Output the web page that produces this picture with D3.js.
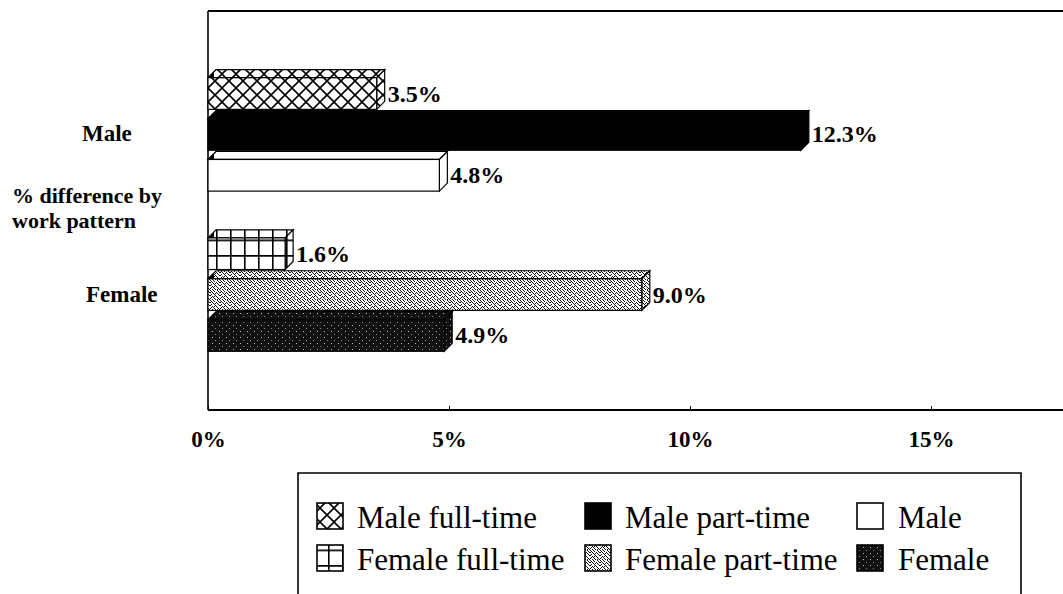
<!DOCTYPE html>
<html>
<head>
<meta charset="utf-8">
<script src="https://cdn.jsdelivr.net/npm/d3@7"></script>
<style>
  html, body { margin: 0; padding: 0; background: #fff; }
  svg { display: block; }
</style>
</head>
<body>
<svg id="chart" width="1063" height="594"></svg>
<script>
// ---------------- data ----------------
const groups = ["Male", "Female"];
const maleSeries = ["Male full-time", "Male part-time", "Male"];
const femaleSeries = ["Female full-time", "Female part-time", "Female"];
const maleValues = [3.5, 12.3, 4.8];
const femaleValues = [1.6, 9.0, 4.9];
const tickValues = [0, 5, 10, 15];
const tickLabels = ["0%", "5%", "10%", "15%"];
const axisTitleLines = ["% difference by", "work pattern"];
const legendOrder = ["Male full-time", "Male part-time", "Male",
                     "Female full-time", "Female part-time", "Female"];

// ---------------- setup ----------------
const svg = d3.select("#chart");
const W = 1063, H = 594;
const plot = { left: 208, top: 11, bottom: 410, right: 1075 };
const depth = 8;
const boldFont = "'Liberation Serif', 'Times New Roman', serif";

const fills = {
  "Male full-time": "url(#pCross)",
  "Male part-time": "#000",
  "Male": "#fff",
  "Female full-time": "url(#pGrid)",
  "Female part-time": "url(#pNoise)",
  "Female": "url(#pDark)"
};

const defs = svg.append("defs");
// crosshatch diamonds
const pc = defs.append("pattern").attr("id", "pCross").attr("patternUnits", "userSpaceOnUse")
  .attr("width", 14).attr("height", 14).attr("patternTransform", "translate(208,4)");
pc.append("rect").attr("width", 14).attr("height", 14).attr("fill", "#fff");
pc.append("path").attr("d", "M0,0L14,14M14,0L0,14M-1,13L1,15M13,-1L15,1").attr("stroke", "#000").attr("stroke-width", 1.6);
// grid
const pg = defs.append("pattern").attr("id", "pGrid").attr("patternUnits", "userSpaceOnUse")
  .attr("width", 14).attr("height", 15.5).attr("patternTransform", "translate(216,255)");
pg.append("rect").attr("width", 14).attr("height", 15.5).attr("fill", "#fff");
pg.append("path").attr("d", "M0.8,0V15.5M0,0.8H14").attr("stroke", "#000").attr("stroke-width", 1.6);
// streaky grey texture (fixed bitmap tile)
const noiseTile = [
  "1001000100",
  "0100100010",
  "1010001001",
  "0001010100",
  "0100100010",
  "1000010001",
  "0010101000",
  "0101000100",
  "1000100010",
  "0010010101"
];
const pn = defs.append("pattern").attr("id", "pNoise").attr("patternUnits", "userSpaceOnUse")
  .attr("width", 10).attr("height", 10);
pn.append("rect").attr("width", 10).attr("height", 10).attr("fill", "#fff");
noiseTile.forEach((row, r) => row.split("").forEach((c, k) => {
  if (c === "1") pn.append("rect").attr("x", k).attr("y", r).attr("width", 1).attr("height", 1).attr("fill", "#111");
}));
// dark with white specks
const pd = defs.append("pattern").attr("id", "pDark").attr("patternUnits", "userSpaceOnUse")
  .attr("width", 7).attr("height", 6);
pd.append("rect").attr("width", 7).attr("height", 6).attr("fill", "#111");
pd.append("rect").attr("x", 2).attr("y", 1).attr("width", 1).attr("height", 1).attr("fill", "#bbb");
pd.append("rect").attr("x", 5).attr("y", 4).attr("width", 1).attr("height", 1).attr("fill", "#888");

// ---------------- scales ----------------
const x = d3.scaleLinear().domain([0, 15]).range([plot.left, 931]);
const yGroup = d3.scaleBand().domain(groups).range([plot.top, plot.bottom])
  .paddingInner(0.242).paddingOuter(0.3665);
const ySeries = d3.scaleBand().domain([0, 1, 2]).range([0, yGroup.bandwidth()]).paddingInner(0.03);

const rows = [];
groups.forEach((g, gi) => {
  const names = gi === 0 ? maleSeries : femaleSeries;
  const vals = gi === 0 ? maleValues : femaleValues;
  vals.forEach((v, i) => rows.push({ group: g, idx: i, name: names[i], value: v }));
});

// ---------------- frame ----------------
svg.append("line").attr("x1", plot.left).attr("x2", W).attr("y1", plot.top).attr("y2", plot.top)
  .attr("stroke", "#000").attr("stroke-width", 2.2);
svg.append("line").attr("x1", plot.left).attr("x2", plot.left).attr("y1", plot.top).attr("y2", plot.bottom)
  .attr("stroke", "#000").attr("stroke-width", 1.6);

// ---------------- bars ----------------
const barG = svg.append("g");
rows.forEach(d => {
  const top = yGroup(d.group) + ySeries(d.idx);
  const bot = top + ySeries.bandwidth();
  const x0 = x(0), x1 = x(d.value);
  const fTop = top + depth;
  const fill = fills[d.name];
  const g = barG.append("g");
  g.append("path")
    .attr("d", `M${x0},${fTop}L${x0 + depth},${top}L${x1 + depth},${top}L${x1},${fTop}Z`)
    .attr("fill", fill).attr("stroke", "#000").attr("stroke-width", 1.2);
  g.append("path")
    .attr("d", `M${x1},${fTop}L${x1 + depth},${top}L${x1 + depth},${bot - depth}L${x1},${bot}Z`)
    .attr("fill", fill).attr("stroke", "#000").attr("stroke-width", 1.2);
  g.append("rect").attr("x", x0).attr("y", fTop).attr("width", x1 - x0).attr("height", bot - fTop)
    .attr("fill", fill).attr("stroke", "#000").attr("stroke-width", 1.2);
  g.append("path")
    .attr("d", `M${x0},${fTop}L${x0 + 6},${fTop - 6}L${x0 + 6},${fTop}Z`)
    .attr("fill", "#000");
  svg.append("text")
    .attr("x", x1 + depth + 3).attr("y", (fTop + bot) / 2)
    .attr("dominant-baseline", "central")
    .attr("font-family", boldFont).attr("font-weight", "bold").attr("font-size", 24)
    .attr("fill", "#000")
    .text(d.value.toFixed(1) + "%");
});

// ---------------- x axis ----------------
const axis = d3.axisBottom(x).tickValues(tickValues)
  .tickFormat((d, i) => tickLabels[i]).tickSizeInner(-4).tickSizeOuter(0).tickPadding(21);
const ax = svg.append("g").attr("transform", `translate(0,${plot.bottom})`).call(axis);
ax.select(".domain").remove();
svg.append("line").attr("x1", plot.left).attr("x2", W).attr("y1", plot.bottom).attr("y2", plot.bottom)
  .attr("stroke", "#000").attr("stroke-width", 2);
ax.selectAll(".tick line").attr("stroke", "#000").attr("stroke-width", 1);
ax.selectAll(".tick text").attr("font-family", boldFont).attr("font-weight", "bold")
  .attr("font-size", 23).attr("fill", "#000");

// ---------------- category labels ----------------
const catX = { "Male": 82, "Female": 86 };
groups.forEach(g => {
  svg.append("text").attr("x", catX[g]).attr("y", yGroup(g) + yGroup.bandwidth() / 2 + 11)
    .attr("font-family", boldFont).attr("font-weight", "bold").attr("font-size", 23)
    .attr("fill", "#000").text(g);
});
axisTitleLines.forEach((t, i) => {
  svg.append("text").attr("x", 12).attr("y", 203 + i * 25)
    .attr("font-family", boldFont).attr("font-weight", "bold").attr("font-size", 22)
    .attr("fill", "#000").text(t);
});

// ---------------- legend ----------------
const lg = svg.append("g");
lg.append("path").attr("d", `M298,${H + 5}V473H1021V${H + 5}`)
  .attr("fill", "none").attr("stroke", "#000").attr("stroke-width", 1.6);
const colSw = [317, 585, 857];
const colTx = [357, 625, 898];
const rowY = [503, 545];
legendOrder.forEach((name, i) => {
  const c = i % 3, r = Math.floor(i / 3);
  lg.append("rect").attr("x", colSw[c]).attr("y", rowY[r]).attr("width", 26).attr("height", 26)
    .attr("fill", fills[name]).attr("stroke", "#000").attr("stroke-width", 1.6);
  lg.append("text").attr("x", colTx[c]).attr("y", rowY[r] + 25)
    .attr("font-family", boldFont).attr("font-size", 31).attr("fill", "#000").text(name);
});
</script>
</body>
</html>
